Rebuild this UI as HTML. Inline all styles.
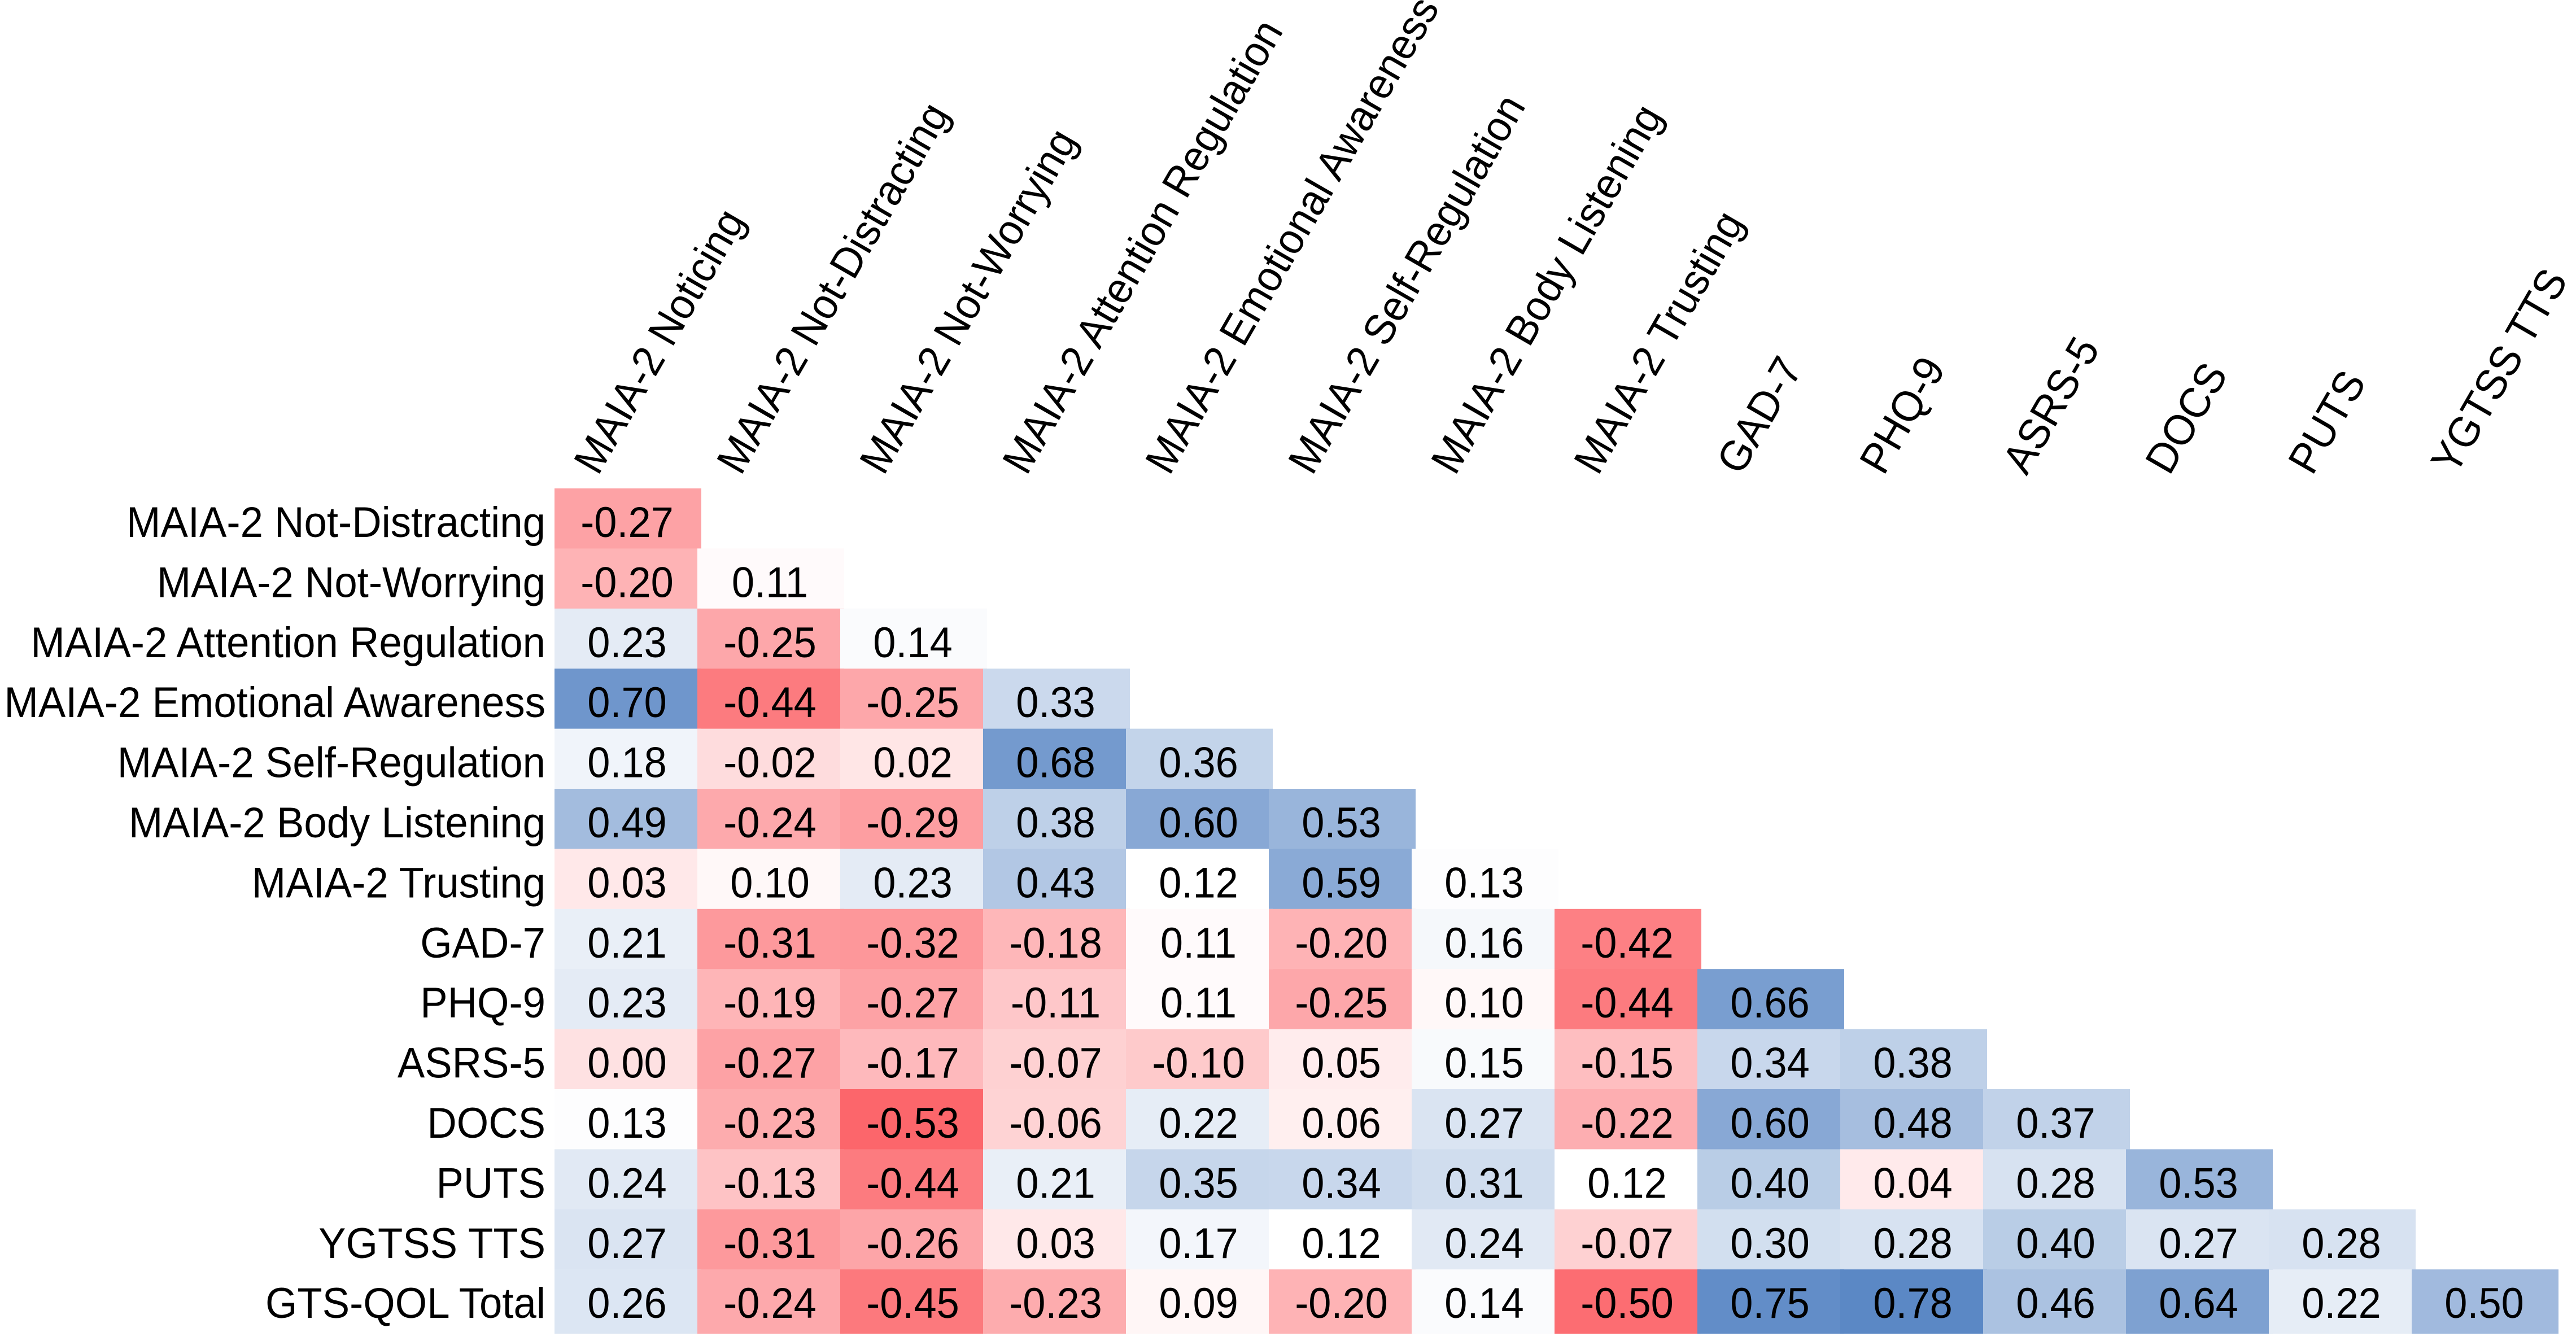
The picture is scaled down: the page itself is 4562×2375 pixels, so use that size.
<!DOCTYPE html>
<html lang="en">
<head>
<meta charset="utf-8">
<title>Correlation heatmap</title>
<style>
  html, body { margin: 0; padding: 0; background: #fff; }
  svg { display: block; }
  text { font-family: "Liberation Sans", Arial, sans-serif; fill: #000; }
</style>
</head>
<body>
<svg id="chart" xmlns="http://www.w3.org/2000/svg" width="4562" height="2375" viewBox="0 0 4562 2375">
  <rect x="0" y="0" width="4562" height="2375" fill="#ffffff"/>
  <g id="cells"></g>
  <g id="values"></g>
  <g id="rowLabels"></g>
  <g id="colLabels"></g>
</svg>
<script>
const columnLabels = ["MAIA-2 Noticing","MAIA-2 Not-Distracting","MAIA-2 Not-Worrying","MAIA-2 Attention Regulation","MAIA-2 Emotional Awareness","MAIA-2 Self-Regulation","MAIA-2 Body Listening","MAIA-2 Trusting","GAD-7","PHQ-9","ASRS-5","DOCS","PUTS","YGTSS TTS"];
const rowLabels = ["MAIA-2 Not-Distracting","MAIA-2 Not-Worrying","MAIA-2 Attention Regulation","MAIA-2 Emotional Awareness","MAIA-2 Self-Regulation","MAIA-2 Body Listening","MAIA-2 Trusting","GAD-7","PHQ-9","ASRS-5","DOCS","PUTS","YGTSS TTS","GTS-QOL Total"];
const row0 = [-0.27];
const row1 = [-0.20,0.11];
const row2 = [0.23,-0.25,0.14];
const row3 = [0.70,-0.44,-0.25,0.33];
const row4 = [0.18,-0.02,0.02,0.68,0.36];
const row5 = [0.49,-0.24,-0.29,0.38,0.60,0.53];
const row6 = [0.03,0.10,0.23,0.43,0.12,0.59,0.13];
const row7 = [0.21,-0.31,-0.32,-0.18,0.11,-0.20,0.16,-0.42];
const row8 = [0.23,-0.19,-0.27,-0.11,0.11,-0.25,0.10,-0.44,0.66];
const row9 = [0.00,-0.27,-0.17,-0.07,-0.10,0.05,0.15,-0.15,0.34,0.38];
const row10 = [0.13,-0.23,-0.53,-0.06,0.22,0.06,0.27,-0.22,0.60,0.48,0.37];
const row11 = [0.24,-0.13,-0.44,0.21,0.35,0.34,0.31,0.12,0.40,0.04,0.28,0.53];
const row12 = [0.27,-0.31,-0.26,0.03,0.17,0.12,0.24,-0.07,0.30,0.28,0.40,0.27,0.28];
const row13 = [0.26,-0.24,-0.45,-0.23,0.09,-0.20,0.14,-0.50,0.75,0.78,0.46,0.64,0.22,0.50];
const correlationRows = [row0,row1,row2,row3,row4,row5,row6,row7,row8,row9,row10,row11,row12,row13];

const NS = "http://www.w3.org/2000/svg";
const FONT_SIZE = 76, X_SQUEEZE = 0.95, LABEL_SQUEEZE = 0.955;
const LEFT = 982, TOP = 865, STEP_X = 253, STEP_Y = 106.4, CELL_W = 260, CELL_H = 114;
const POS_WHITE = 0.12, NEG_WHITE = 0.13, POS_END = 0.78, NEG_END = -0.53;
const POS_RGB = [91,136,197], NEG_RGB = [252,102,107];

function xAt(col) { return LEFT + STEP_X * col; }
function yAt(row) { return TOP + STEP_Y * row; }
function colorOf(v) {
  const target = v >= POS_WHITE ? POS_RGB : NEG_RGB;
  const t = Math.min(1, v >= POS_WHITE ? (v - POS_WHITE) / (POS_END - POS_WHITE) : (NEG_WHITE - v) / (NEG_WHITE - NEG_END));
  const c = target.map(function (ch) { return Math.round(255 + (ch - 255) * t); });
  return "rgb(" + c.join(",") + ")";
}
function makeText(str, transform, anchor) {
  const t = document.createElementNS(NS, "text");
  t.setAttribute("transform", transform);
  t.setAttribute("text-anchor", anchor);
  t.setAttribute("font-size", FONT_SIZE);
  t.textContent = str;
  return t;
}

const cellsG = document.getElementById("cells");
const valuesG = document.getElementById("values");
const rowG = document.getElementById("rowLabels");
const colG = document.getElementById("colLabels");

correlationRows.forEach(function (rowVals, r) {
  const lab = makeText(rowLabels[r], "translate(966," + (yAt(r) + 86) + ") scale(" + LABEL_SQUEEZE + ",1)", "end");
  
  
  rowG.appendChild(lab);
  rowVals.forEach(function (v, c) {
    const rect = document.createElementNS(NS, "rect");
    rect.setAttribute("x", xAt(c));
    rect.setAttribute("y", yAt(r));
    rect.setAttribute("width", CELL_W);
    rect.setAttribute("height", CELL_H);
    rect.setAttribute("fill", colorOf(v));
    
    
    cellsG.appendChild(rect);
    const txt = makeText(v.toFixed(2), "translate(" + (xAt(c) + 128.5) + "," + (yAt(r) + 86) + ") scale(" + X_SQUEEZE + ",1)", "middle");
    
    
    valuesG.appendChild(txt);
  });
});

columnLabels.forEach(function (name, c) {
  const lab = makeText(name, "translate(" + (xAt(c) + 77) + ",844) rotate(-60) scale(" + LABEL_SQUEEZE + ",1)", "start");
  
  
  colG.appendChild(lab);
});
</script>
</body>
</html>
